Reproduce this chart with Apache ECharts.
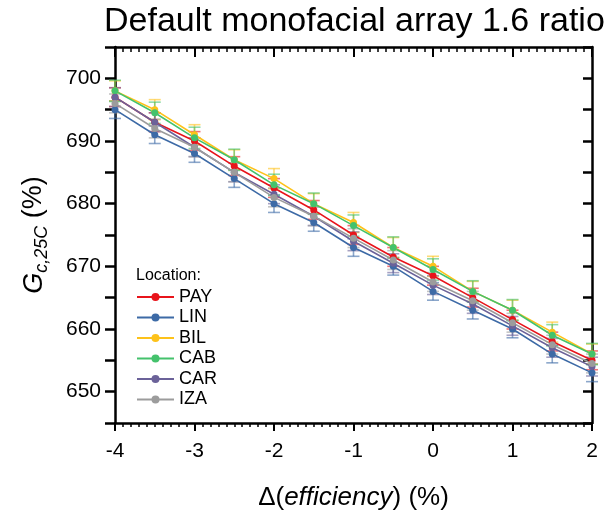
<!DOCTYPE html>
<html>
<head>
<meta charset="utf-8">
<script src="https://cdn.jsdelivr.net/npm/echarts@6/dist/echarts.min.js"></script>
<style>
  html, body { margin: 0; padding: 0; background: #fff; }
  #chart { width: 608px; height: 519px; }
</style>
</head>
<body>
<div id="chart"></div>
<script>
// x positions: change in efficiency (%)
const efficiency = [-4, -3.5, -3, -2.5, -2, -1.5, -1, -0.5, 0, 0.5, 1, 1.5, 2];

const locations = ['PAY', 'LIN', 'BIL', 'CAB', 'CAR', 'IZA'];
const colors = ['#e8141b', '#3d6aa6', '#fdc21a', '#44c26c', '#6b6299', '#9c9c9c'];

// G_c,25C (%) per location
const pay = [697, 693, 690, 686, 682.5, 679, 675, 671.5, 668.5, 665, 661.5, 658, 655];
const lin = [695, 691, 688, 684, 680, 677, 673, 670, 666, 663, 660, 656, 653];
const bil = [698, 695, 691, 687, 684, 680, 677, 673, 670, 666, 663, 659.5, 656];
const cab = [698, 694.5, 690.5, 687, 683, 680, 676.5, 673, 669.5, 666, 663, 659, 656];
const car = [697, 693, 689, 685, 681.5, 678, 674, 670.5, 667, 664, 660.5, 657, 654];
const iza = [696, 692, 689, 685, 681, 678, 674.5, 671, 667.5, 664.5, 661, 657.5, 654.5];

// half-width of the error bars
const errors = [1.5, 1.4, 1.6, 1.7, 1.5, 1.5];

const yTicks = [650, 660, 670, 680, 690, 700];

const seriesValues = [pay, lin, bil, cab, car, iza];

const chart = echarts.init(document.getElementById('chart'));

const font = 'Liberation Sans, Arial, sans-serif';

const hexToRgba = (hex, a) => {
  const n = parseInt(hex.slice(1), 16);
  return `rgba(${(n >> 16) & 255},${(n >> 8) & 255},${n & 255},${a})`;
};

const errorSeries = locations.map((name, i) => ({
  name: name + ' err',
  type: 'custom',
  z: 1,
  silent: true,
  data: efficiency.map((x, j) => [x, seriesValues[i][j] - errors[i], seriesValues[i][j] + errors[i]]),
  renderItem: (params, api) => {
    const lo = api.coord([api.value(0), api.value(1)]);
    const hi = api.coord([api.value(0), api.value(2)]);
    const half = 6;
    const style = { stroke: hexToRgba(colors[i], 0.6), lineWidth: 1.6 };
    return {
      type: 'group',
      children: [
        { type: 'line', shape: { x1: lo[0], y1: lo[1], x2: hi[0], y2: hi[1] }, style },
        { type: 'line', shape: { x1: lo[0] - half, y1: lo[1], x2: lo[0] + half, y2: lo[1] }, style },
        { type: 'line', shape: { x1: hi[0] - half, y1: hi[1], x2: hi[0] + half, y2: hi[1] }, style },
      ],
    };
  },
}));

const lineSeries = locations.map((name, i) => ({
  name,
  type: 'line',
  z: 2,
  data: efficiency.map((x, j) => [x, seriesValues[i][j]]),
  symbol: 'circle',
  symbolSize: 7,
  itemStyle: { color: colors[i] },
  lineStyle: { color: colors[i], width: 1.6 },
  emphasis: { disabled: true },
}));

const xCommon = {
  type: 'value',
  min: -4,
  max: 2,
  interval: 1,
  axisLine: { show: true, onZero: false, lineStyle: { color: '#000', width: 2.5 } },
  splitLine: { show: false },
};

const yCommon = {
  type: 'value',
  min: 645,
  max: 705,
  interval: 5,
  axisLine: { show: true, onZero: false, lineStyle: { color: '#000', width: 2.5 } },
  splitLine: { show: false },
};

chart.setOption({
  animation: false,
  title: [
    {
      text: 'Default monofacial array 1.6 ratio',
      left: 99,
      top: 0,
      textStyle: { fontFamily: font, fontSize: 34, fontWeight: 'normal', color: '#000' },
    },
    {
      text: 'Location:',
      left: 131,
      top: 263,
      textStyle: { fontFamily: font, fontSize: 16, fontWeight: 'normal', color: '#000' },
    },
  ],
  legend: {
    data: locations,
    orient: 'vertical',
    left: 136,
    top: 288,
    padding: 0,
    itemWidth: 37,
    itemHeight: 10,
    itemGap: 2.5,
    textStyle: { fontFamily: font, fontSize: 18, lineHeight: 18, color: '#000' },
  },
  grid: { left: 115, right: 16, top: 47, bottom: 96 },
  xAxis: [
    {
      ...xCommon,
      position: 'bottom',
      name: '{d|Δ(}{i|efficiency}{d|) (%)}',
      nameLocation: 'middle',
      nameGap: 62,
      nameTextStyle: {
        rich: {
          d: { fontFamily: font, fontSize: 26, color: '#000' },
          i: { fontFamily: font, fontSize: 26, fontStyle: 'italic', color: '#000' },
        },
      },
      axisTick: { show: true, inside: false, length: 8, lineStyle: { color: '#000', width: 2 } },
      minorTick: { show: true, splitNumber: 10, length: 4, lineStyle: { color: '#000', width: 1.5 } },
      axisLabel: { fontFamily: font, fontSize: 21, color: '#000', margin: 18 },
    },
    {
      ...xCommon,
      position: 'top',
      axisTick: { show: true, inside: true, length: 10, lineStyle: { color: '#000', width: 2 } },
      minorTick: { show: true, splitNumber: 10, length: 5, lineStyle: { color: '#000', width: 1.5 } },
      axisLabel: { show: false },
    },
  ],
  yAxis: [
    {
      ...yCommon,
      position: 'left',
      name: '{g|G}{s|c,25C}{n| (%)}',
      nameLocation: 'middle',
      nameRotate: 90,
      nameGap: 64,
      nameTextStyle: {
        rich: {
          g: { fontFamily: font, fontSize: 27, fontStyle: 'italic', color: '#000', lineHeight: 34, verticalAlign: 'middle' },
          s: { fontFamily: font, fontSize: 18, fontStyle: 'italic', color: '#000', lineHeight: 18, verticalAlign: 'bottom' },
          n: { fontFamily: font, fontSize: 27, color: '#000', lineHeight: 34, verticalAlign: 'middle' },
        },
      },
      axisTick: { show: true, inside: false, length: 10, lineStyle: { color: '#000', width: 2.5 } },
      axisLabel: {
        fontFamily: font,
        fontSize: 21,
        color: '#000',
        margin: 14,
        formatter: (v) => (yTicks.includes(v) ? String(v) : ''),
      },
    },
    {
      ...yCommon,
      position: 'right',
      axisTick: { show: true, inside: true, length: 9, lineStyle: { color: '#000', width: 2.5 } },
      axisLabel: { show: false },
    },
  ],
  series: [...errorSeries, ...lineSeries],
});

window.addEventListener('resize', () => chart.resize());
</script>
</body>
</html>
